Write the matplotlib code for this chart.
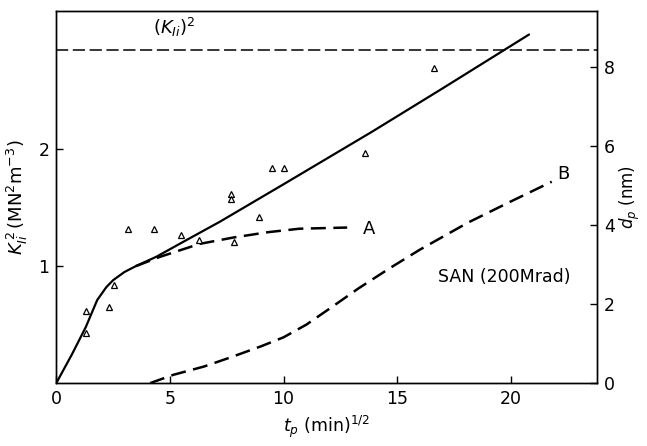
import matplotlib
matplotlib.use("Agg")
import matplotlib.pyplot as plt

# main fitted curve (solid), K^2 units
main_t = [0, 0.7, 1.3, 1.8, 2.2, 2.5, 3.0, 3.5, 4.4, 5.7, 7.2, 10.0, 13.9, 17.0, 20.8]
main_k = [0, 0.25, 0.48, 0.71, 0.82, 0.88, 0.95, 1.0, 1.08, 1.22, 1.38, 1.70, 2.15, 2.52, 2.98]

# curve A (dashed), K^2 units
a_t = [3.5, 4.57, 6.3, 7.8, 9.3, 10.7, 12.8]
a_k = [1.0, 1.08, 1.19, 1.245, 1.29, 1.32, 1.33]

# curve B (dashed), d_p in nm
b_t = [4.13, 5.15, 6.5, 7.66, 9.0, 10.0, 11.0, 12.06, 13.3, 14.7, 16.0, 18.1, 20.0, 21.8]
b_d = [0.0, 0.21, 0.42, 0.65, 0.93, 1.16, 1.48, 1.9, 2.4, 2.92, 3.38, 4.06, 4.6, 5.1]

# measured points (triangles)
pt_t = [1.31, 1.31, 2.33, 2.55, 3.17, 4.3, 5.5, 6.3, 7.8, 7.7, 7.7, 8.9, 9.5, 10.0, 13.6, 16.6]
pt_k = [0.62, 0.43, 0.65, 0.84, 1.32, 1.32, 1.27, 1.22, 1.21, 1.62, 1.57, 1.42, 1.84, 1.84, 1.97, 2.69]

kic2 = 2.85  # (K_Ic)^2 level

x_ticks = [0, 5, 10, 15, 20]
y_ticks = [1, 2]
y2_ticks = [0, 2, 4, 6, 8]

plt.rcParams['font.family'] = ['DejaVu Sans']
fig = plt.figure(figsize=(6.47, 4.46), dpi=100)
ax = fig.add_axes([0.087, 0.141, 0.836, 0.834])
ax2 = ax.twinx()

ax.set_xlim(0, 23.8)
ax.set_ylim(0, 3.18)
ax2.set_ylim(0, 3.18 / 0.3376)

ax.plot(main_t, main_k, color='black', lw=1.6, solid_capstyle='round')
ax.plot(a_t, a_k, color='black', lw=1.8, dashes=(6, 3))
ax2.plot(b_t, b_d, color='black', lw=1.8, dashes=(6, 3))
ax.axhline(kic2, color='black', lw=1.1, dashes=(8, 3))
ax.plot(pt_t, pt_k, linestyle='none', marker='^', markersize=4,
        markerfacecolor='white', markeredgecolor='black', markeredgewidth=0.9)

ax.set_xticks(x_ticks)
ax.set_xticklabels([str(v) for v in x_ticks])
ax.set_yticks(y_ticks)
ax.set_yticklabels([str(v) for v in y_ticks])
ax2.set_yticks(y2_ticks)
ax2.set_yticklabels([str(v) for v in y2_ticks])

for a in (ax, ax2):
    a.tick_params(direction='in', length=5, width=1, labelsize=12.5, pad=5)
    for s in a.spines.values():
        s.set_linewidth(1.0)

ax.text(5.2, 3.04, r'$(K_{Ii})^2$', fontsize=13, ha='center', va='center')
ax.text(13.5, 1.32, 'A', fontsize=13, ha='left', va='center')
ax.text(22.3, 1.79, 'B', fontsize=13, ha='center', va='center')
ax.text(19.7, 0.91, 'SAN (200Mrad)', fontsize=12.5, ha='center', va='center')

ax.set_xlabel(r'$t_p$ (min)$^{1/2}$', fontsize=12.5, labelpad=4)
ax.set_ylabel(r'$K_{Ii}^{\,2}\,(\mathrm{MN^2m^{-3}})$', fontsize=13, labelpad=6)
ax2.set_ylabel(r'$d_p$ (nm)', fontsize=12, labelpad=2)

fig.savefig('out.png', dpi=100)
